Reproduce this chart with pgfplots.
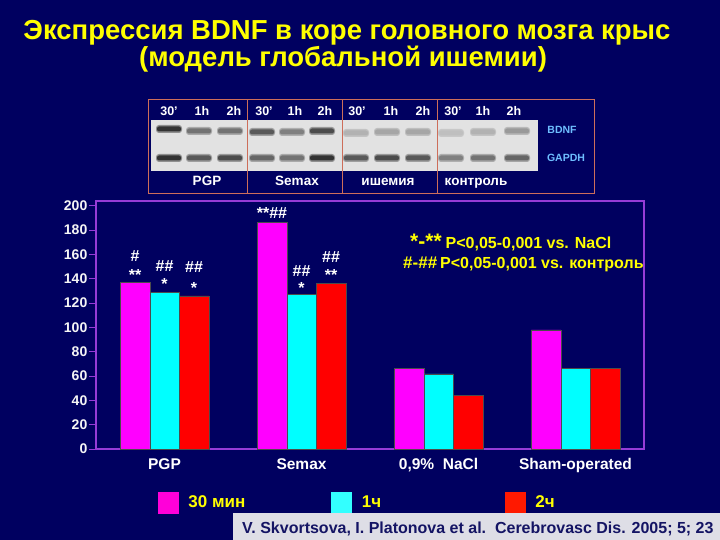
\documentclass[border=0pt]{standalone}
\usepackage{fontspec}
\setmainfont{Liberation Sans}
\usepackage{pgfplots}
\pgfplotsset{compat=1.18}
\definecolor{bg}{RGB}{0,0,96}
\definecolor{frm}{RGB}{150,60,215}
\definecolor{cMag}{RGB}{255,0,255}
\definecolor{cCyan}{RGB}{0,255,255}
\definecolor{cRed}{RGB}{255,0,0}
\definecolor{ttl}{RGB}{255,255,0}
\definecolor{gelfr}{RGB}{205,110,90}
\definecolor{gel}{RGB}{226,226,226}
\definecolor{lbl}{RGB}{110,190,255}
\definecolor{cite}{RGB}{222,222,230}
\definecolor{citetx}{RGB}{20,20,100}
\newcommand{\fs}[1]{\fontsize{#1bp}{#1bp}\selectfont\bfseries}

\begin{document}
\begin{tikzpicture}[x=1bp,y=1bp]
\fill[bg] (0,0) rectangle (720,-540);

% title
\node[anchor=base,text=ttl,font=\fs{27.5},inner sep=0] at (347,-39.5) {Экспрессия BDNF в коре головного мозга крыс};
\node[anchor=base,text=ttl,font=\fs{27.5},inner sep=0] at (343,-67) {(модель глобальной ишемии)};

% blot
\fill[gel] (151,-120) rectangle (538,-171);
\foreach \x/\a/\b/\yy in {169/80/80/129, 199/55/65/131, 230/55/70/131, 262/65/60/132,
  292/50/55/132, 322/70/80/131, 356/30/65/133, 387/35/70/132, 418/35/65/132,
  451/25/50/133, 483/30/55/132, 517/40/60/131}{
  \fill[black!\a!gel, opacity=0.45, rounded corners=3] (\x-13,-\yy-4) rectangle (\x+13,-\yy+4);
  \fill[black!\a, rounded corners=2] (\x-12,-\yy-2.5) rectangle (\x+12,-\yy+2.5);
  \fill[black!\b!gel, opacity=0.45, rounded corners=3] (\x-13,-162) rectangle (\x+13,-154);
  \fill[black!\b, rounded corners=2] (\x-12,-160.5) rectangle (\x+12,-155.5);
}
\draw[gelfr,line width=1] (148,-100) rectangle (594,-193);
\foreach \x in {247,342,437} \draw[gelfr,line width=1] (\x,-100) -- (\x,-193);
\foreach \x/\t in {169/30',202/1h,234/2h,264/30',295/1h,325/2h,357/30',391/1h,423/2h,453/30',483/1h,514/2h}
  \node[anchor=base,text=white,font=\fs{12.5},inner sep=0] at (\x,-115.5) {\t};
\foreach \x/\t in {207/PGP,297/Semax,388/ишемия,476/контроль}
  \node[anchor=base,text=white,font=\fs{13.5},inner sep=0] at (\x,-185.5) {\t};
\node[text=lbl,font=\fs{10.5},inner sep=0] at (562,-130) {BDNF};
\node[text=lbl,font=\fs{10.5},inner sep=0] at (566,-158) {GAPDH};

\begin{axis}[
  at={(96bp,-449bp)}, anchor=south west,
  scale only axis, width=548bp, height=248bp,
  xmin=-0.5, xmax=3.5, ymin=0, ymax=204,
  ybar=0pt, bar width=29.5bp,
  axis line style={frm, line width=1.3bp},
  xtick={0,1,2,3},
  xticklabels={PGP,Semax,{0,9\%\ \ NaCl},Sham-operated},
  ytick={0,20,...,200},
  tick align=outside, ytick pos=left,
  major tick length=7bp,
  x tick style={draw=none},
  y tick style={frm, line width=1bp},
  /pgf/number format/assume math mode=true,
  yticklabel style={font=\fs{14}, text=white!92!gray, inner sep=1.5bp},
  xticklabel style={font=\fs{15.5}, text=white, anchor=base, yshift=-13bp},
  legend columns=3,
  legend cell align=left,
  legend style={at={(0.1131,-0.2157)}, anchor=west, draw=none, fill=none,
    inner sep=0pt, outer sep=0pt, text=ttl, font=\fs{17},
    nodes={inner sep=0pt},
    /tikz/every odd column/.append style={column sep=10bp}},
]
\addplot[fill=cMag, draw=black!70, line width=0.5bp,
  legend image code/.code={\fill[cMag!85!red] (0bp,-10.5bp) rectangle (20bp,10.5bp);}]
  coordinates {(0,137.1) (1,186.5) (2,66.1) (3,97.9)};
\addplot[fill=cCyan, draw=black!70, line width=0.5bp,
  legend image code/.code={\fill[cCyan!80!white] (0bp,-10.5bp) rectangle (20bp,10.5bp);}]
  coordinates {(0,128.9) (1,127.5) (2,61.7) (3,66.1)};
\addplot[fill=cRed, draw=black!70, line width=0.5bp,
  legend image code/.code={\fill[cRed!90!yellow] (0bp,-10.5bp) rectangle (20bp,10.5bp);}]
  coordinates {(0,125.9) (1,136.0) (2,44.4) (3,66.6)};
\addlegendentry{\makebox[143bp][l]{30 мин}}
\addlegendentry{\makebox[143bp][l]{1ч}}
\addlegendentry{\makebox[143bp][l]{2ч}}

\tikzset{anot/.style={anchor=base, text=white, font=\fs{16}, inner sep=0}}
\node[anot, xshift=-29.5bp] at (axis cs:0,154.1) {\#};
\node[anot, xshift=-29.5bp] at (axis cs:0,139.0) {**};
\node[anot] at (axis cs:0,146.4) {\#\#};
\node[anot] at (axis cs:0,130.8) {*};
\node[anot, xshift=29.5bp] at (axis cs:0,145.0) {\#\#};
\node[anot, xshift=29.5bp] at (axis cs:0,128.3) {*};
\node[anot, xshift=-29.5bp] at (axis cs:1,190.0) {**\#\#};
\node[anot] at (axis cs:1,142.3) {\#\#};
\node[anot] at (axis cs:1,128.3) {*};
\node[anot, xshift=29.5bp] at (axis cs:1,153.2) {\#\#};
\node[anot, xshift=29.5bp] at (axis cs:1,139.0) {**};
\end{axis}

% significance note
\node[anchor=base west, text=ttl, font=\fs{16}, inner sep=0] at (410,-249)
  {{\fs{21}*-**}\hspace{4bp}P<0,05-0,001 vs. NaCl};
\node[anchor=base west, text=ttl, font=\fs{16}, inner sep=0] at (403,-269)
  {{\fs{17}\#-\#\#}\hspace{3bp}P<0,05-0,001 vs. контроль};

% citation
\fill[cite] (233,-513) rectangle (720,-540);
\node[anchor=base west, text=citetx, font=\fs{16}, inner sep=0] at (242,-533)
  {V. Skvortsova, I. Platonova et al.\ \ Cerebrovasc Dis. 2005; 5; 23};

\pgfresetboundingbox
\path[use as bounding box] (0,0) rectangle (720,-540);
\end{tikzpicture}
\end{document}
